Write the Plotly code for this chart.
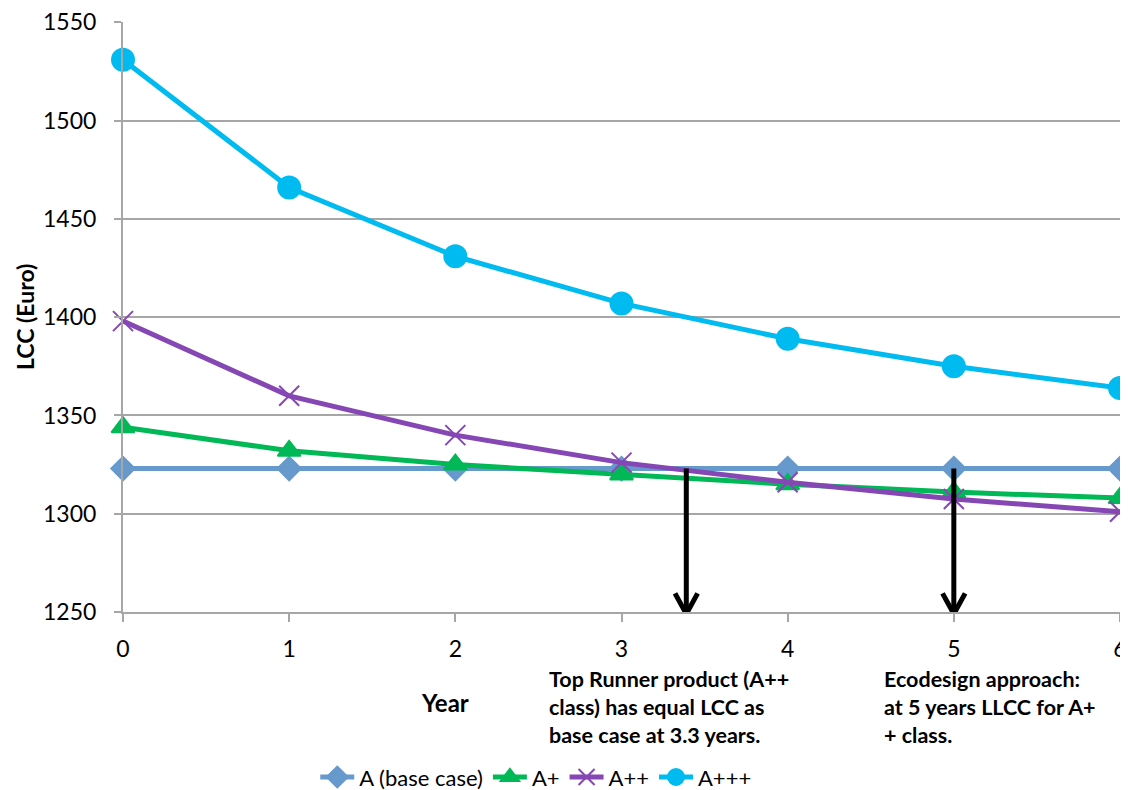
import plotly.graph_objects as go

years = [0, 1, 2, 3, 4, 5, 6]
series_names = ["A (base case)", "A+", "A++", "A+++"]
lcc_base = [1323, 1323, 1323, 1323, 1323, 1323, 1323]
lcc_a1 = [1344, 1332, 1325, 1320, 1315, 1311, 1308]
lcc_a2 = [1398, 1360, 1340, 1326, 1316, 1307.5, 1301]
lcc_a3 = [1531, 1466, 1431, 1407, 1389, 1375, 1364]
arrow_x = [3.39, 5.0]
arrow_top = 1323
y_ticks = [1250, 1300, 1350, 1400, 1450, 1500, 1550]

colors = ["#6699CC", "#00B956", "#8547B3", "#00BBF0"]
symbols = ["diamond", "triangle-up", "x-thin-open", "circle"]
sizes = [18, 20, 20, 22]

FONT = "Lato"
fig = go.Figure()
for name, vals, c, s, sz in zip(series_names, [lcc_base, lcc_a1, lcc_a2, lcc_a3], colors, symbols, sizes):
    fig.add_trace(go.Scatter(
        x=years, y=vals, name=name, mode="lines+markers",
        line=dict(color=c, width=5),
        marker=dict(symbol=s, size=sz, color=c, line=dict(color=c, width=2)),
        cliponaxis=False,
    ))

# arrows
dx, dy = 0.068, 10.5
tip = 1249
for ax in arrow_x:
    fig.add_shape(type="line", x0=ax, x1=ax, y0=arrow_top, y1=tip + 1,
                  line=dict(color="black", width=5), layer="above")
    fig.add_shape(type="path",
                  path=f"M {ax-dx} {tip+dy} L {ax} {tip} L {ax+dx} {tip+dy}",
                  line=dict(color="black", width=5), layer="above")

fig.add_annotation(x=2.55, y=0, xref="x", yref="paper", yshift=-52,
                   xanchor="left", yanchor="top", align="left", showarrow=False,
                   text="<b>Top Runner product (A++<br>class) has equal LCC as<br>base case at 3.3 years.</b>",
                   font=dict(family=FONT, size=21.5, color="black"))
fig.add_annotation(x=4.57, y=0, xref="x", yref="paper", yshift=-52,
                   xanchor="left", yanchor="top", align="left", showarrow=False,
                   text="<b>Ecodesign approach:<br>at 5 years LLCC for A+<br>+ class.</b>",
                   font=dict(family=FONT, size=21.5, color="black"))
fig.add_annotation(x=1.94, y=0, xref="x", yref="paper", yshift=-90,
                   xanchor="center", yanchor="middle", showarrow=False,
                   text="<b>Year</b>", font=dict(family=FONT, size=24, color="black"))
fig.add_annotation(x=0, y=0.5, xref="paper", yref="paper", xshift=-98,
                   xanchor="center", yanchor="middle", showarrow=False, textangle=-90,
                   text="<b>LCC (Euro)</b>", font=dict(family=FONT, size=23, color="black"))

fig.update_layout(
    width=1128, height=790,
    margin=dict(l=115, r=16, t=14, b=186, autoexpand=False),
    plot_bgcolor="white", paper_bgcolor="white",
    font=dict(family=FONT, size=23, color="black"),
    showlegend=True,
    legend=dict(orientation="h", x=0.414, xanchor="center", y=-0.28, yanchor="middle",
                font=dict(family=FONT, size=22, color="black"),
                itemwidth=34, tracegroupgap=0),
    xaxis=dict(range=[0, 6], tickvals=years, showgrid=False, zeroline=False, automargin=False,
               showline=True, linecolor="#A6A6A6", linewidth=2, ticklabeloverflow="allow",
               ticks="outside", ticklen=8, tickcolor="#A6A6A6", tickwidth=2,
               tickfont=dict(family=FONT, size=23), ticklabelstandoff=7),
    yaxis=dict(range=[1250, 1550.2], tickvals=y_ticks, showgrid=True, gridcolor="#A6A6A6",
               gridwidth=2, zeroline=False, showline=True, linecolor="#A6A6A6", linewidth=2,
               automargin=False, ticklabeloverflow="allow",
               ticks="outside", ticklen=7, tickcolor="#A6A6A6", tickwidth=2,
               tickfont=dict(family=FONT, size=23), ticklabelstandoff=13),
)

fig.write_html("out.html")
